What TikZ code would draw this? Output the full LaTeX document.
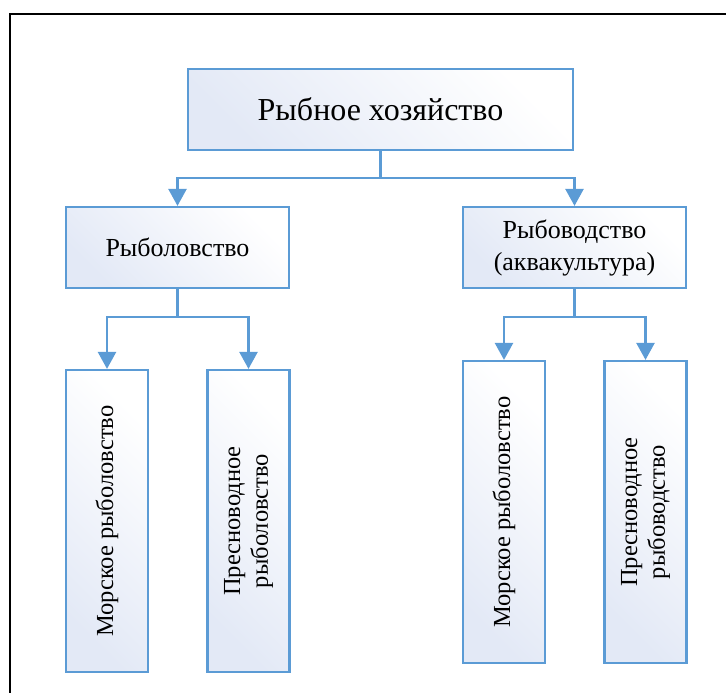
\documentclass[tikz,border=0pt]{standalone}
\usepackage{fontspec}
\setmainfont{Liberation Serif}
\usetikzlibrary{arrows.meta}
\definecolor{accent}{HTML}{5B9BD5}
\definecolor{boxshade}{HTML}{E3E9F6}
\begin{document}
\begin{tikzpicture}[x=1pt,y=-1pt,
  box/.style={draw=accent, line width=2.2pt, inner sep=0pt,
    top color=white, bottom color=boxshade, shading angle=-45,
    text=black, align=center},
  link/.style={draw=accent, line width=2.5pt,
    -{Triangle[width=18pt,length=17pt]}},
  frameline/.style={draw=black, line width=2pt}]
  \useasboundingbox (0,0) rectangle (726,693);

  % outer frame (only top and left edges are in view)
  \draw[frameline] (10,693) -- (10,14) -- (726,14);

  % top level
  \node[box, minimum width=385pt, minimum height=81pt, font=\fontsize{32}{38}\selectfont]
    (root) at (380.5,109.5) {Рыбное хозяйство};

  % second level
  \node[box, minimum width=223pt, minimum height=81pt, font=\fontsize{26}{31}\selectfont]
    (catch) at (177.5,247.5) {Рыболовство};
  \node[box, minimum width=223pt, minimum height=81pt, font=\fontsize{26}{32}\selectfont]
    (farm) at (574.5,247.5) {Рыбоводство\\(аквакультура)};

  % third level, vertical labels
  \tikzset{tall/.style={box, minimum width=82pt, minimum height=302pt,
    font=\fontsize{24.5}{31}\selectfont}}
  \node[tall] (catchsea) at (107,521)
    {\rotatebox{90}{Морское рыболовство}};
  \node[tall] (catchfresh) at (248.5,521)
    {\rotatebox{90}{\shortstack{Пресноводное\\[2pt]рыболовство}}};
  \node[tall] (farmsea) at (504,512)
    {\rotatebox{90}{Морское рыболовство}};
  \node[tall] (farmfresh) at (645.5,512)
    {\rotatebox{90}{\shortstack{Пресноводное\\[2pt]рыбоводство}}};

  % connectors
  \draw[link] (root.south) -- ++(0,27) -| (catch.north);
  \draw[link] (root.south) -- ++(0,27) -| (farm.north);
  \draw[link] (catch.south) -- ++(0,28) -| (catchsea.north);
  \draw[link] (catch.south) -- ++(0,28) -| (catchfresh.north);
  \draw[link] (farm.south) -- ++(0,28) -| (farmsea.north);
  \draw[link] (farm.south) -- ++(0,28) -| (farmfresh.north);
\end{tikzpicture}
\end{document}
